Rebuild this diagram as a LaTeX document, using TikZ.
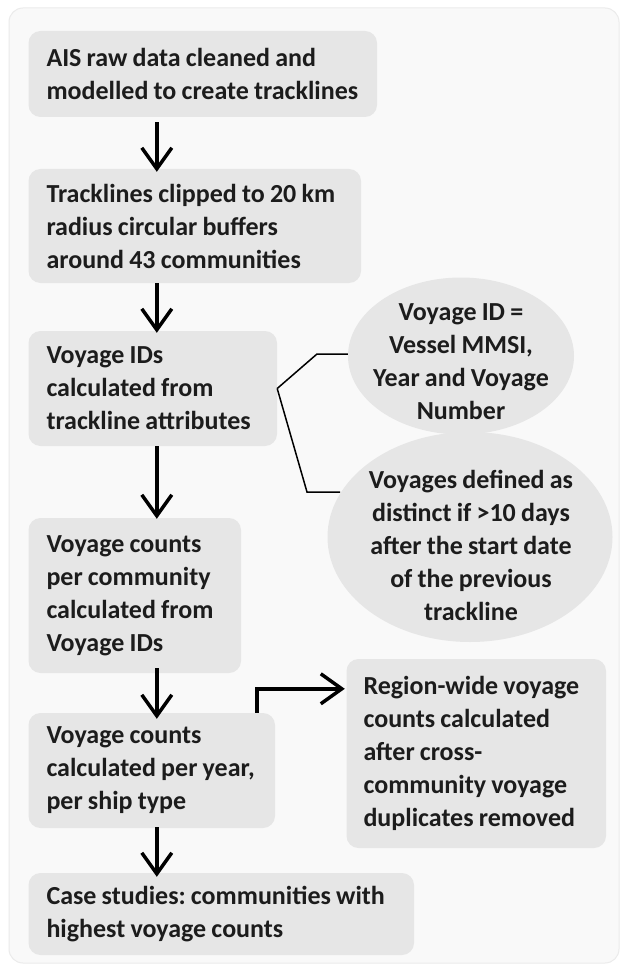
\documentclass[tikz,border=0pt]{standalone}
\usepackage{fontspec}
\setmainfont{Carlito}
\usetikzlibrary{arrows.meta,shapes.geometric,calc}
\definecolor{boxfill}{HTML}{E6E6E6}
\definecolor{panelfill}{HTML}{F9F9F9}
\definecolor{panelline}{HTML}{EBEBEB}
\definecolor{ink}{HTML}{1C1C1C}
\begin{document}
\begin{tikzpicture}[x=1pt,y=-1pt,
  txt/.style={font=\fontsize{26}{33}\selectfont\bfseries, text=ink, execute at begin node={\frenchspacing\spaceskip=0.2em\relax}},
  stepbox/.style={txt, draw=none, fill=boxfill, rounded corners=12pt, align=left, inner xsep=18pt, inner ysep=0pt},
  bubble/.style={ellipse, fill=boxfill, draw=none, inner sep=0pt},
  flow/.style={line width=3.5pt, line join=miter, -{Straight Barb[length=21pt,width=30pt]}},
  brace/.style={line width=1.5pt, line join=miter}]
\useasboundingbox (0,0) rectangle (621,968);
\fill[white] (0,0) rectangle (621,968);
\draw[fill=panelfill, draw=panelline, line width=1pt, rounded corners=14pt] (9,8) rectangle (619,963);

\node[stepbox, text width=312.5pt, minimum height=86pt] (b1) at (202.75,74) {\mbox{AIS raw data cleaned and}\\\mbox{modelled to create tracklines}};
\node[stepbox, text width=296.5pt, minimum height=114pt] (b2) at (194.75,226) {\mbox{Tracklines clipped to 20 km}\\\mbox{radius circular buffers}\\\mbox{around 43 communities}};
\node[stepbox, text width=212.5pt, minimum height=115pt] (b3) at (152.75,388.5) {\mbox{Voyage IDs}\\\mbox{calculated from}\\\mbox{trackline attributes}};
\node[stepbox, text width=176.5pt, minimum height=155pt] (b4) at (134.75,595.5) {\mbox{Voyage counts}\\\mbox{per community}\\\mbox{calculated from}\\\mbox{Voyage IDs}};
\node[stepbox, text width=210.5pt, minimum height=115pt] (b5) at (151.75,770.5) {\mbox{Voyage counts}\\\mbox{calculated per year,}\\\mbox{per ship type}};
\node[stepbox, text width=349.5pt, minimum height=82pt] (b6) at (221.25,914) {\mbox{Case studies: communities with}\\\mbox{highest voyage counts}};
\node[stepbox, inner xsep=17pt, text width=225.5pt, minimum height=189pt] (b7) at (476.25,753.5) {\mbox{Region-wide voyage}\\\mbox{counts calculated}\\\mbox{after cross-}\\\mbox{community voyage}\\\mbox{duplicates removed}};

\coordinate (k1) at (317,354);
\coordinate (k2) at (307,492);
\node[bubble, minimum width=226pt, minimum height=157pt] (e1) at (461,356) {};
\node[bubble, minimum width=285pt, minimum height=210pt] (e2) at (470,537) {};
\draw[brace] (b3.east) -- (k1) -- (k1 -| e1.west);
\draw[brace] (b3.east) -- (k2) -- (340,492);
\node[txt, align=center] (t1) at (461,362) {Voyage ID =\\Vessel MMSI,\\Year and Voyage\\Number};
\node[txt, align=center] (t2) at (471,545) {Voyages defined as\\distinct if >10 days\\after the start date\\of the previous\\trackline};

\draw[flow] ($(b1.south west)+(128.5,5)$) -- ($(b2.north west)+(128.5,3)$);
\draw[flow] ($(b2.south west)+(128.5,0)$) -- ($(b3.north west)+(128.5,2)$);
\draw[flow] ($(b3.south west)+(128.5,0)$) -- ($(b4.north west)+(128.5,1)$);
\draw[flow] ($(b4.south west)+(128.5,-5)$) -- ($(b5.north west)+(128.5,6)$);
\draw[flow] ($(b5.south west)+(128.5,-1)$) -- ($(b6.north west)+(128.5,4)$);
\draw[flow] ($(b5.north west)+(228.5,0)$) |- ($(b7.north west)+(-1.5,30)$);
\end{tikzpicture}
\end{document}
